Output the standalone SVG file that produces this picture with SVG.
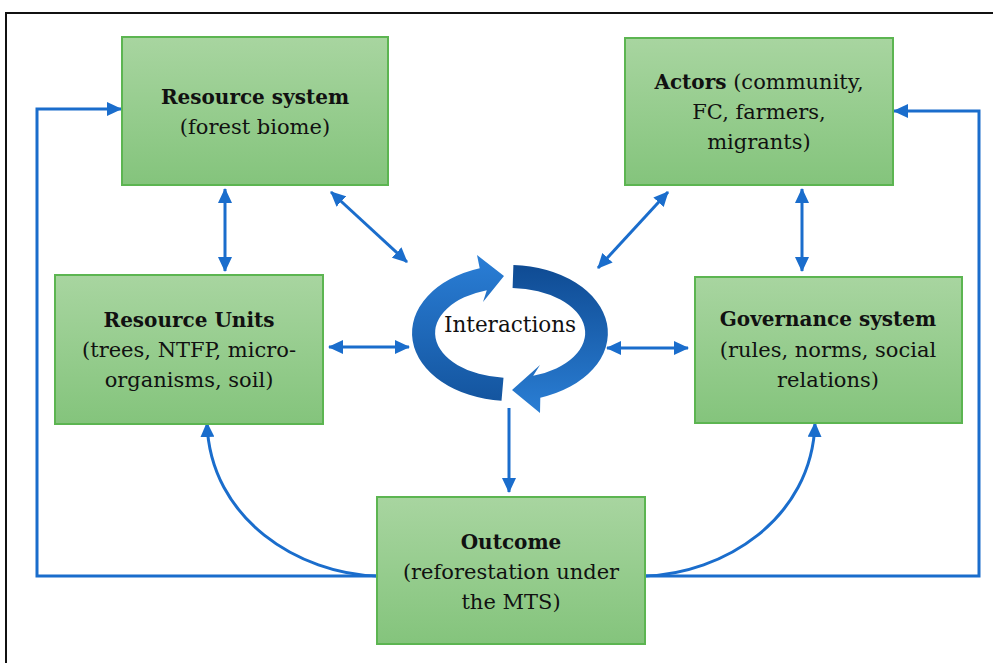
<svg xmlns="http://www.w3.org/2000/svg" width="993" height="663" viewBox="0 0 993 663">
<style>
.box{stroke:#5cb551;stroke-width:2;fill:url(#gbox)}
.t{font-family:"DejaVu Serif","Liberation Serif",serif;font-size:21px;fill:#111;text-anchor:middle}
.b{font-weight:bold;font-size:20px}
.c{fill:none;stroke:#1a6dcc;stroke-width:3}
</style>
<defs>
<linearGradient id="gbox" x1="0" y1="0" x2="0" y2="1">
<stop offset="0" stop-color="#a8d5a0"/>
<stop offset="1" stop-color="#84c47c"/>
</linearGradient>
<linearGradient id="ga" x1="0" y1="0" x2="0" y2="1">
<stop offset="0" stop-color="#2a7ed6"/>
<stop offset="1" stop-color="#14559f"/>
</linearGradient>
<linearGradient id="gb" x1="0" y1="0" x2="0" y2="1">
<stop offset="0" stop-color="#0f4b93"/>
<stop offset="1" stop-color="#2a7ed4"/>
</linearGradient>
<marker id="ah" markerUnits="userSpaceOnUse" markerWidth="15" markerHeight="14" viewBox="0 0 15 14" refX="14" refY="7" orient="auto-start-reverse">
<path d="M0,0 L15,7 L0,14 z" fill="#1a6dcc"/>
</marker>
</defs>
<rect x="6" y="13" width="1000" height="700" fill="#fff" stroke="#111" stroke-width="2"/>

<g id="connectors">
<path class="c" d="M225,189 V271" marker-start="url(#ah)" marker-end="url(#ah)"/>
<path class="c" d="M331,192 L407,262" marker-start="url(#ah)" marker-end="url(#ah)"/>
<path class="c" d="M668,192 L598,268" marker-start="url(#ah)" marker-end="url(#ah)"/>
<path class="c" d="M802,189 V271" marker-start="url(#ah)" marker-end="url(#ah)"/>
<path class="c" d="M329,347 H409" marker-start="url(#ah)" marker-end="url(#ah)"/>
<path class="c" d="M607,348 H688" marker-start="url(#ah)" marker-end="url(#ah)"/>
<path class="c" d="M509,408 V492" marker-end="url(#ah)"/>
<path class="c" d="M377,576 C300,574 210,520 207,423" marker-end="url(#ah)"/>
<path class="c" d="M645,576 C722,574 812,520 815,423" marker-end="url(#ah)"/>
<path class="c" d="M377,576 H37 V109 H121" marker-end="url(#ah)"/>
<path class="c" d="M645,576 H979 V111 H894" marker-end="url(#ah)"/>
</g>

<g id="interactions">
<path d="M501.5,400.7 A98 68 0 0 1 479.7,268.3 L477,255 L504,276 L483,302 L486.8,290.2 A75 45 0 0 0 503.5,377.8 Z" fill="url(#ga)"/>
<path d="M513.4,265.1 A98 68 0 0 1 540.3,397.7 L540,413 L512,390 L540,365 L533.2,375.8 A75 45 0 0 0 512.6,288 Z" fill="url(#gb)"/>
<text class="t" x="510" y="332" style="font-size:21.5px">Interactions</text>
</g>

<g id="resource-system">
<rect class="box" x="122" y="37" width="266" height="148"/>
<text class="t b" x="255" y="104">Resource system</text>
<text class="t" x="255" y="134">(forest biome)</text>
</g>

<g id="actors">
<rect class="box" x="625" y="38" width="268" height="147"/>
<text class="t" x="759" y="89"><tspan font-weight="bold" font-size="20">Actors</tspan> (community,</text>
<text class="t" x="759" y="119">FC, farmers,</text>
<text class="t" x="759" y="149">migrants)</text>
</g>

<g id="resource-units">
<rect class="box" x="55" y="275" width="268" height="149"/>
<text class="t b" x="189" y="327">Resource Units</text>
<text class="t" x="189" y="357">(trees, NTFP, micro-</text>
<text class="t" x="189" y="387">organisms, soil)</text>
</g>

<g id="governance">
<rect class="box" x="695" y="277" width="267" height="146"/>
<text class="t b" x="828" y="326">Governance system</text>
<text class="t" x="828" y="357">(rules, norms, social</text>
<text class="t" x="828" y="387">relations)</text>
</g>

<g id="outcome">
<rect class="box" x="377" y="497" width="268" height="147"/>
<text class="t b" x="511" y="549">Outcome</text>
<text class="t" x="511" y="579">(reforestation under</text>
<text class="t" x="511" y="609">the MTS)</text>
</g>
</svg>
